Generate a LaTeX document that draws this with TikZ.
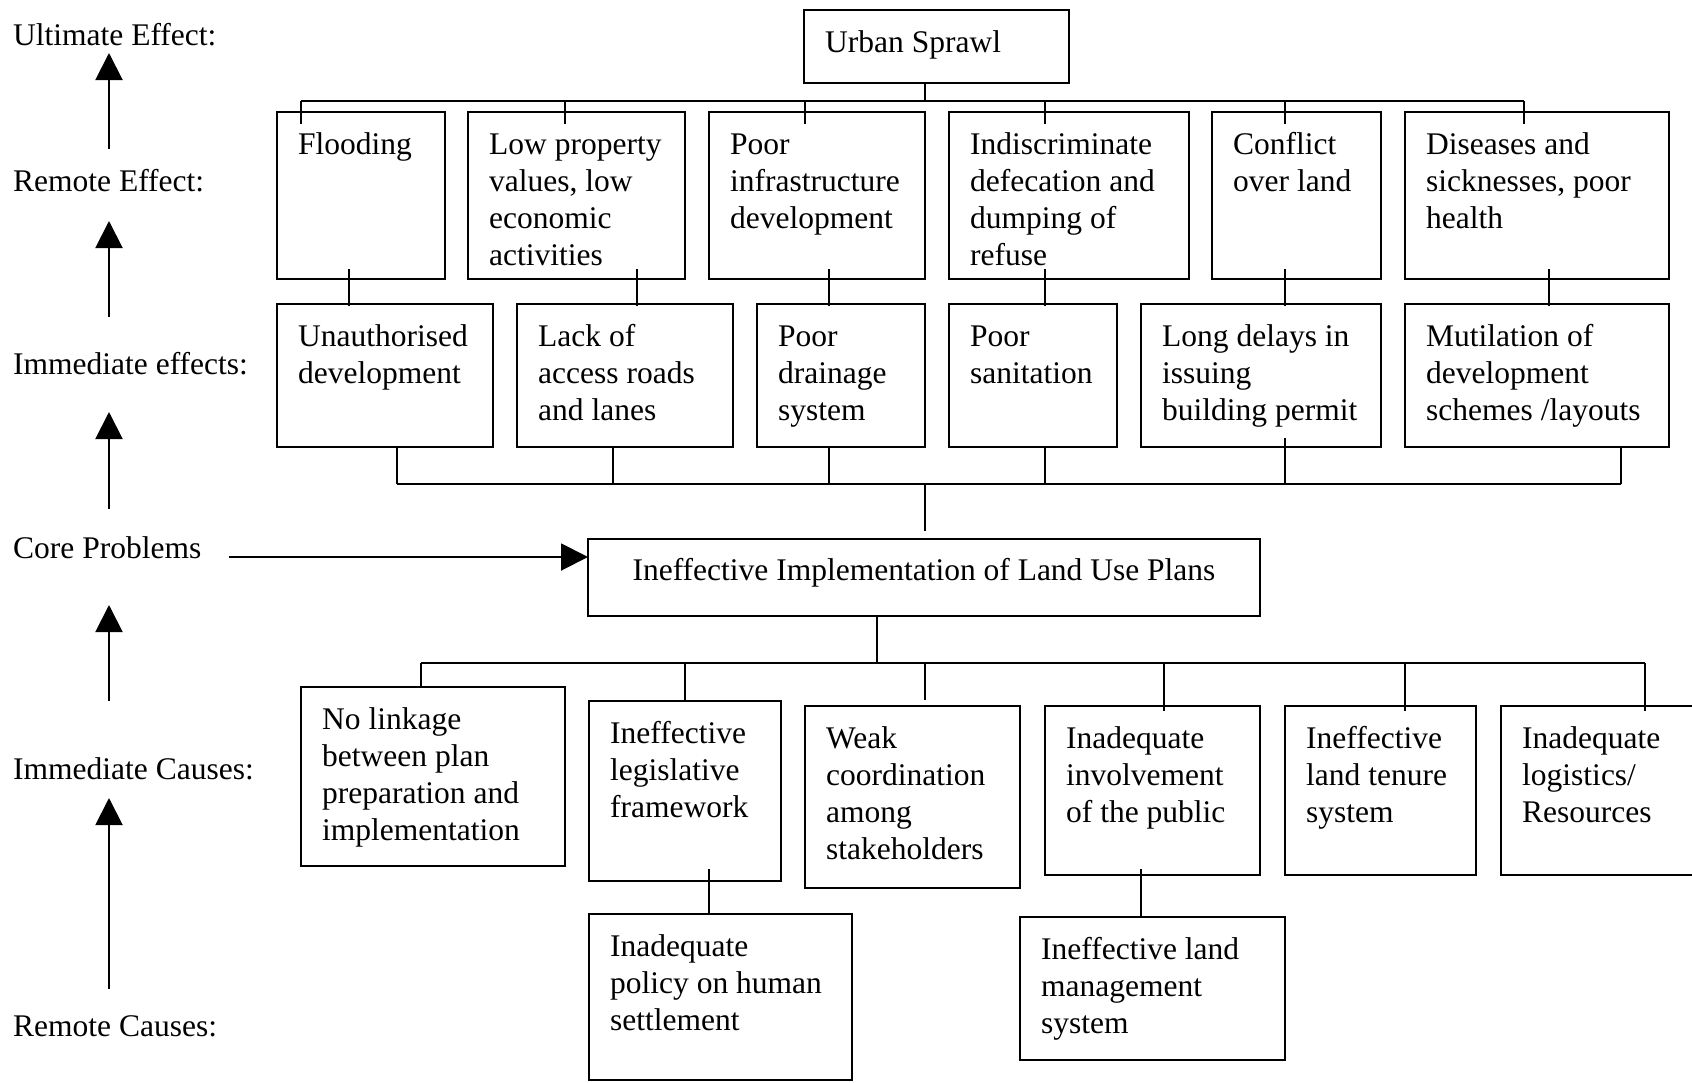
\documentclass[tikz,border=0pt]{standalone}
\usepackage{fontspec}
\setmainfont{Liberation Serif}
\usetikzlibrary{arrows.meta,calc}
\tikzset{
 boxs/.style={draw, line width=2.5pt, inner sep=0pt, outer sep=0pt},
 txt/.style={font=\fontsize{31.5}{37}\selectfont, align=left, inner sep=0pt, anchor=north west},
 lbl/.style={font=\fontsize{31.5}{37}\selectfont, inner sep=0pt, anchor=base west},
 conn/.style={line width=1.8pt},
 bus/.style={line width=2.2pt},
 arr/.style={line width=2pt, -{Triangle[length=27pt,width=27pt]}},
}
\newcommand\mybox[6]{%
 \node[boxs, minimum width={(#4)-(#2)}, minimum height={(#5)-(#3)}, anchor=north west] (#1) at (#2,#3) {};
 \node[txt] (#1t) at ($(#1.north west)+(21,20)$) {\rule{0pt}{22pt}#6};
}
\begin{document}
\begin{tikzpicture}[x=1pt,y=-1pt]
\useasboundingbox (0,0) rectangle (1692,1082);
\clip (0,0) rectangle (1692,1082);
% left labels
\node[lbl] (l1) at (13,45) {Ultimate Effect:};
\node[lbl] (l2) at (13,191) {Remote Effect:};
\node[lbl] (l3) at (13,374) {Immediate effects:};
\node[lbl] (l4) at (13,558) {Core Problems};
\node[lbl] (l5) at (13,779) {Immediate Causes:};
\node[lbl] (l6) at (13,1036) {Remote Causes:};
% boxes
\mybox{u}{804}{10}{1069}{83}{Urban Sprawl}
\mybox{r1}{277}{112}{445}{279}{Flooding}
\mybox{r2}{468}{112}{685}{279}{Low property\\values, low\\economic\\activities}
\mybox{r3}{709}{112}{925}{279}{Poor\\infrastructure\\development}
\mybox{r4}{949}{112}{1189}{279}{Indiscriminate\\defecation and\\dumping of\\refuse}
\mybox{r5}{1212}{112}{1381}{279}{Conflict\\over land}
\mybox{r6}{1405}{112}{1669}{279}{Diseases and\\sicknesses, poor\\health}
\mybox{e1}{277}{304}{493}{447}{Unauthorised\\development}
\mybox{e2}{517}{304}{733}{447}{Lack of\\access roads\\and lanes}
\mybox{e3}{757}{304}{925}{447}{Poor\\drainage\\system}
\mybox{e4}{949}{304}{1117}{447}{Poor\\sanitation}
\mybox{e5}{1141}{304}{1381}{447}{Long delays in\\issuing\\building permit}
\mybox{e6}{1405}{304}{1669}{447}{Mutilation of\\development\\schemes /layouts}
\node[boxs, minimum width=672, minimum height=77, anchor=north west] (core) at (588,539) {};
\node[txt, anchor=base] (coret) at ($(core.north)+(0,41)$) {Ineffective Implementation of Land Use Plans};
\mybox{c1}{301}{687}{565}{866}{No linkage\\between plan\\preparation and\\implementation}
\mybox{c2}{589}{701}{781}{881}{Ineffective\\legislative\\framework}
\mybox{c3}{805}{706}{1020}{888}{Weak\\coordination\\among\\stakeholders}
\mybox{c4}{1045}{706}{1260}{875}{Inadequate\\involvement\\of the public}
\mybox{c5}{1285}{706}{1476}{875}{Ineffective\\land tenure\\system}
\mybox{c6}{1501}{706}{1720}{875}{Inadequate\\logistics/\\Resources}
\mybox{d1}{589}{914}{852}{1080}{Inadequate\\policy on human\\settlement}
\mybox{d2}{1020}{917}{1285}{1060}{Ineffective land\\management\\system}
% arrows on the left
\coordinate (a1b) at (109,149); \coordinate (a1t) at (109,53);
\coordinate (a2b) at (109,317); \coordinate (a2t) at (109,221);
\coordinate (a3b) at (109,509); \coordinate (a3t) at (109,412);
\coordinate (a4b) at (109,701); \coordinate (a4t) at (109,605);
\coordinate (a5b) at (109,989); \coordinate (a5t) at (109,798);
\draw[arr] (a1b) -- (a1t);
\draw[arr] (a2b) -- (a2t);
\draw[arr] (a3b) -- (a3t);
\draw[arr] (a4b) -- (a4t);
\draw[arr] (a5b) -- (a5t);
\coordinate (hp) at (229,557);
\draw[arr] (hp) -- (hp -| core.west);
% urban sprawl to remote effects
\draw[conn] ($(u.south west)+(121,0)$) -- ($(u.south west)+(121,18)$);
\draw[bus] ($(r1.north west)+(24,-11)$) -- ($(r6.north west)+(119,-11)$);
\draw[conn] ($(r1.north west)+(24,-11)$) -- ($(r1.north west)+(24,12)$);
\draw[conn] ($(r2.north west)+(97,-11)$) -- ($(r2.north west)+(97,12)$);
\draw[conn] ($(r3.north west)+(96,-11)$) -- ($(r3.north west)+(96,12)$);
\draw[conn] ($(r4.north west)+(96,-11)$) -- ($(r4.north west)+(96,12)$);
\draw[conn] ($(r5.north west)+(73,-11)$) -- ($(r5.north west)+(73,12)$);
\draw[conn] ($(r6.north west)+(119,-11)$) -- ($(r6.north west)+(119,12)$);
% remote effects to immediate effects
\draw[conn] ($(r1.south west)+(72,-10)$) -- ($(e1.north west)+(72,2)$);
\draw[conn] ($(r2.south west)+(169,-10)$) -- ($(e2.north west)+(120,2)$);
\draw[conn] ($(r3.south west)+(120,-10)$) -- ($(e3.north west)+(72,2)$);
\draw[conn] ($(r4.south west)+(96,-10)$) -- ($(e4.north west)+(96,2)$);
\draw[conn] ($(r5.south west)+(73,-10)$) -- ($(e5.north west)+(144,2)$);
\draw[conn] ($(r6.south west)+(144,-10)$) -- ($(e6.north west)+(144,2)$);
% immediate effects to core
\draw[conn] ($(e1.south west)+(120,0)$) -- ($(e1.south west)+(120,37)$);
\draw[conn] ($(e2.south west)+(96,0)$) -- ($(e2.south west)+(96,37)$);
\draw[conn] ($(e3.south west)+(72,0)$) -- ($(e3.south west)+(72,37)$);
\draw[conn] ($(e4.south west)+(96,0)$) -- ($(e4.south west)+(96,37)$);
\draw[conn] ($(e5.south west)+(144,-9)$) -- ($(e5.south west)+(144,37)$);
\draw[conn] ($(e6.south west)+(216,0)$) -- ($(e6.south west)+(216,37)$);
\draw[bus] ($(e1.south west)+(120,37)$) -- ($(e6.south west)+(216,37)$);
\draw[conn] ($(core.north west)+(337,-55)$) -- ($(core.north west)+(337,-8)$);
% core to immediate causes
\draw[conn] ($(core.south west)+(289,0)$) -- ($(core.south west)+(289,47)$);
\draw[bus] ($(c1.north west)+(120,-24)$) -- ($(c6.north west)+(144,-43)$);
\draw[conn] ($(c1.north west)+(120,-24)$) -- ($(c1.north west)+(120,0)$);
\draw[conn] ($(c2.north west)+(96,-38)$) -- ($(c2.north west)+(96,0)$);
\draw[conn] ($(c3.north west)+(120,-43)$) -- ($(c3.north west)+(120,-6)$);
\draw[conn] ($(c4.north west)+(119,-43)$) -- ($(c4.north west)+(119,5)$);
\draw[conn] ($(c5.north west)+(120,-43)$) -- ($(c5.north west)+(120,5)$);
\draw[conn] ($(c6.north west)+(144,-43)$) -- ($(c6.north west)+(144,5)$);
% immediate causes to remote causes
\draw[conn] ($(c2.south west)+(120,-12)$) -- ($(d1.north west)+(120,0)$);
\draw[conn] ($(c4.south west)+(96,-6)$) -- ($(d2.north west)+(121,0)$);
\end{tikzpicture}
\end{document}
